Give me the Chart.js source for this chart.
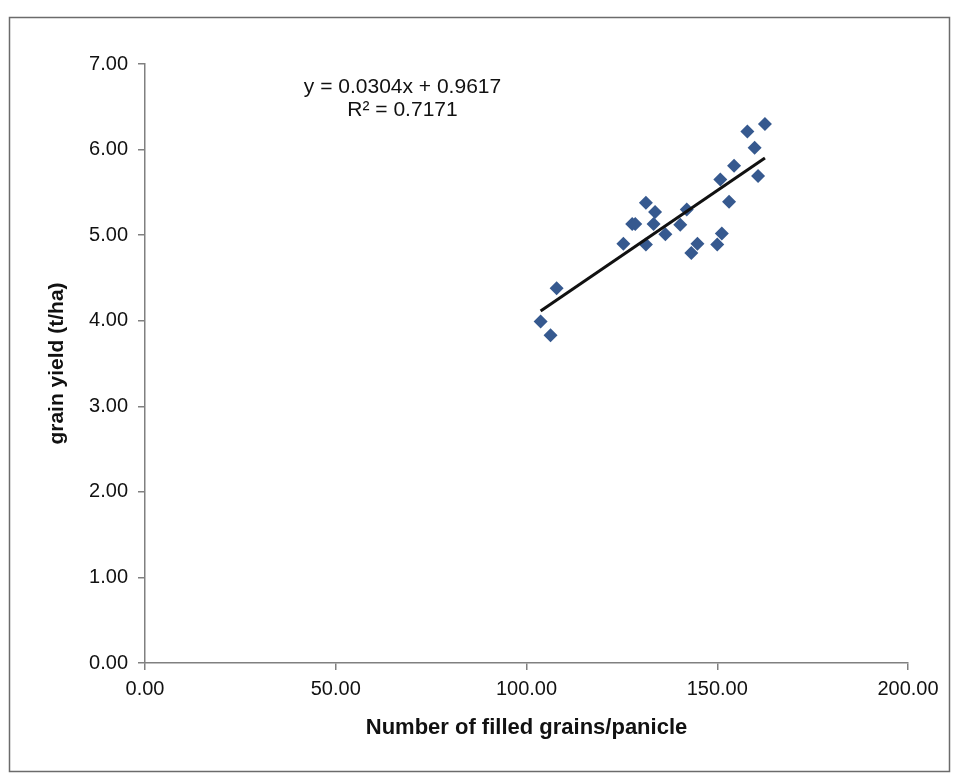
<!DOCTYPE html>
<html>
<head>
<meta charset="utf-8">
<script src="https://cdn.jsdelivr.net/npm/chart.js@4.4.0/dist/chart.umd.min.js"></script>
<style>
  html, body { margin: 0; padding: 0; background: #ffffff; }
  #wrap { width: 956px; height: 778px; position: relative; }
</style>
</head>
<body>
<div id="wrap"><canvas id="c" width="956" height="778"></canvas></div>
<script>
// ---- Data ----
const filledGrains = [103.7, 106.3, 107.9, 125.4, 127.7, 128.5, 131.3, 131.3, 133.7, 133.3, 136.4, 140.3,
                      142.0, 143.2, 144.8, 150.0, 151.2, 153.1, 150.8, 154.4, 157.9, 162.5, 159.8, 160.7];
const grainYield   = [3.99, 3.83, 4.38, 4.90, 5.13, 5.13, 5.38, 4.89, 5.27, 5.13, 5.01, 5.12,
                      5.30, 4.79, 4.90, 4.89, 5.02, 5.39, 5.65, 5.81, 6.21, 6.30, 6.02, 5.69];
const trendSlope = 0.0304;
const trendIntercept = 0.9617;
const equationLines = ['y = 0.0304x + 0.9617', 'R\u00B2 = 0.7171'];
const equationPos = [[67.5, 6.73], [67.5, 6.46]];
const xTitle = 'Number of filled grains/panicle';
const yTitle = 'grain yield (t/ha)';

const points = filledGrains.map((x, i) => ({ x: x, y: grainYield[i] }));
const xMin = Math.min(...filledGrains), xMax = Math.max(...filledGrains);
const trendPoints = [xMin, xMax].map(x => ({ x: x, y: trendSlope * x + trendIntercept }));

const FONT = "'Liberation Sans', Arial, sans-serif";

const framePlugin = {
  id: 'frame',
  beforeDraw(chart) {
    const ctx = chart.ctx;
    ctx.save();
    ctx.fillStyle = '#ffffff';
    ctx.fillRect(0, 0, chart.width, chart.height);
    ctx.strokeStyle = '#6b6b6b';
    ctx.lineWidth = 1.5;
    ctx.strokeRect(9.5, 17.5, 940, 754);
    ctx.restore();
  }
};

const equationPlugin = {
  id: 'equation',
  afterDatasetsDraw(chart) {
    const ctx = chart.ctx;
    const xs = chart.scales.x, ys = chart.scales.y;
    ctx.save();
    ctx.font = '21px ' + FONT;
    ctx.fillStyle = '#111111';
    ctx.textAlign = 'center';
    ctx.textBaseline = 'middle';
    equationLines.forEach((t, i) => {
      ctx.fillText(t, xs.getPixelForValue(equationPos[i][0]), ys.getPixelForValue(equationPos[i][1]));
    });
    ctx.restore();
  }
};

new Chart(document.getElementById('c'), {
  type: 'scatter',
  data: {
    datasets: [
      {
        label: 'grain yield',
        data: points,
        pointStyle: 'rectRot',
        pointRadius: 7,
        pointHoverRadius: 7,
        backgroundColor: '#36598f',
        borderColor: '#36598f',
        borderWidth: 0,
        order: 2
      },
      {
        label: 'Linear trend',
        data: trendPoints,
        type: 'line',
        showLine: true,
        pointRadius: 0,
        borderColor: '#111111',
        borderWidth: 3,
        fill: false,
        order: 1
      }
    ]
  },
  options: {
    responsive: false,
    animation: false,
    devicePixelRatio: 1,
    layout: { padding: { left: 0, top: 64, right: 48, bottom: 0 } },
    plugins: {
      legend: { display: false },
      tooltip: { enabled: false },
      title: { display: false }
    },
    scales: {
      x: {
        type: 'linear',
        min: 0, max: 200,
        ticks: {
          stepSize: 50,
          padding: 7,
          color: '#111111',
          font: { family: FONT, size: 20 },
          callback: v => Number(v).toFixed(2),
          maxRotation: 0
        },
        grid: { drawOnChartArea: false, drawTicks: true, tickLength: 7, color: '#808080', lineWidth: 1.5 },
        border: { color: '#808080', width: 1.5 },
        title: {
          display: true, text: xTitle, color: '#111111',
          font: { family: FONT, size: 22, weight: 'bold' },
          padding: { top: 0, bottom: 37 }
        },
        afterFit(scale) { scale.height = 115; }
      },
      y: {
        type: 'linear',
        min: 0, max: 7,
        ticks: {
          stepSize: 1,
          padding: 10,
          color: '#111111',
          font: { family: FONT, size: 20 },
          callback: v => Number(v).toFixed(2)
        },
        grid: { drawOnChartArea: false, drawTicks: true, tickLength: 7, color: '#808080', lineWidth: 1.5 },
        border: { color: '#808080', width: 1.5 },
        title: {
          display: true, text: yTitle, color: '#111111',
          font: { family: FONT, size: 21, weight: 'bold' },
          padding: { top: 45, bottom: 0 }
        },
        afterFit(scale) { scale.width = 145; }
      }
    }
  },
  plugins: [framePlugin, equationPlugin]
});
</script>
</body>
</html>
